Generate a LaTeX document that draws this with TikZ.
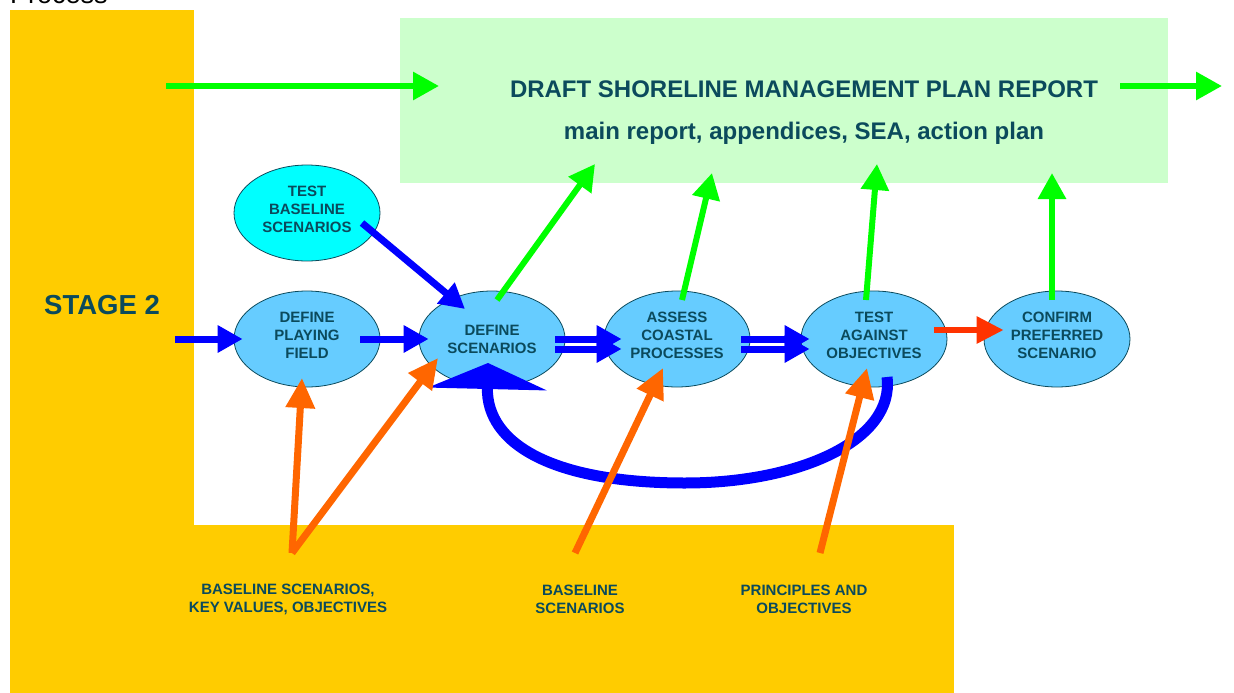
\documentclass[tikz,border=0pt]{standalone}
\usepackage{fontspec}
\setmainfont{Liberation Sans}
\usetikzlibrary{shapes.geometric,arrows.meta,calc}
\definecolor{yellowc}{HTML}{FFCC00}
\definecolor{greenbox}{HTML}{CCFFCC}
\definecolor{gr}{HTML}{00FF00}
\definecolor{bl}{HTML}{0000FF}
\definecolor{orc}{HTML}{FF6600}
\definecolor{rdc}{HTML}{FF3300}
\definecolor{lblue}{HTML}{66CCFF}
\definecolor{cyanc}{HTML}{00FFFF}
\definecolor{tc}{HTML}{0B4A5C}
\tikzset{
  proc/.style={ellipse, draw=tc, line width=0.8pt, fill=lblue, minimum width=146pt, minimum height=96pt,
    inner sep=0pt, align=center, text=tc, font=\bfseries\fontsize{15}{18}\selectfont},
  tri/.style={text depth=8pt},
  lbl/.style={align=center, text=tc, font=\bfseries\fontsize{15}{18}\selectfont, inner sep=0pt},
  garrow/.style={draw=gr, line width=6pt, -{Triangle[length=26pt,width=27pt]}},
  barrow/.style={draw=bl, line width=7pt, -{Triangle[length=25pt,width=26pt]}},
  oarrow/.style={draw=orc, line width=7pt, -{Triangle[length=30pt,width=28pt]}},
  rarrow/.style={draw=rdc, line width=6pt, -{Triangle[length=27pt,width=26pt]}},
  panel/.style={inner sep=0pt, outer sep=0pt, anchor=north west}
}
\begin{document}
\begin{tikzpicture}[x=1pt,y=-1pt]
\useasboundingbox (0,0) rectangle (1234,693);
\fill[white] (0,0) rectangle (1234,693);
% panels
\node[panel, fill=yellowc, minimum width=184pt, minimum height=515pt] (ybar) at (10,10) {};
\node[panel, fill=yellowc, minimum width=944pt, minimum height=168pt] (ybot) at (10,525) {};
\node[panel, fill=greenbox, minimum width=768pt, minimum height=165pt] (report) at (400,18) {};
% titles
\node[anchor=base west, inner sep=0pt, font=\fontsize{27}{30}\selectfont] (proctitle) at (10,4) {Process};
\node[anchor=base, inner sep=0pt, text=tc, font=\bfseries\fontsize{24}{28}\selectfont] (rtitle) at (804,97) {DRAFT SHORELINE MANAGEMENT PLAN REPORT};
\node[anchor=base, inner sep=0pt, text=tc, font=\bfseries\fontsize{24}{28}\selectfont] (rsub) at (804,139) {main report, appendices, SEA, action plan};
\node[anchor=base, inner sep=0pt, text=tc, font=\bfseries\fontsize{27.5}{30}\selectfont] (stage) at (102,314) {STAGE 2};
% process ellipses
\node[proc, tri, fill=cyanc] (tbs) at (307,213) {TEST\\BASELINE\\SCENARIOS};
\node[proc, tri] (dpf) at (307,339) {DEFINE\\PLAYING\\FIELD};
\node[proc] (ds) at (492,339) {DEFINE\\SCENARIOS};
\node[proc, tri] (acp) at (677,339) {ASSESS\\COASTAL\\PROCESSES};
\node[proc, tri] (tao) at (874,339) {TEST\\AGAINST\\OBJECTIVES};
\node[proc, tri] (cps) at (1057,339) {CONFIRM\\PREFERRED\\SCENARIO};
% bottom labels
\node[lbl] (l1) at (288,599) {BASELINE SCENARIOS,\\KEY VALUES, OBJECTIVES};
\node[lbl] (l2) at (580,599) {BASELINE\\SCENARIOS};
\node[lbl] (l3) at (804,599) {PRINCIPLES AND\\OBJECTIVES};
% free ends
\coordinate (gin) at (166,86);
\coordinate (gout) at (1222,86);
\coordinate (bin) at (175,339);
% green arrows
\draw[garrow] (gin) -- ($(report.south west)+(39,-97)$);
\draw[garrow] ($(report.south east)+(-48,-97)$) -- (gout);
\draw[garrow] ($(ds.center)+(5,-39)$) -- ($(report.south west)+(195,-19)$);
\draw[garrow] ($(acp.center)+(5,-39)$) -- ($(report.south west)+(312,-10)$);
\draw[garrow] ($(tao.center)+(-8,-39)$) -- ($(report.south west)+(477,-19)$);
\draw[garrow] ($(cps.center)+(-5,-39)$) -- ($(report.south west)+(652,-10)$);
% blue arrows
\draw[barrow] (bin) -- ($(dpf.west)+(9,0)$);
\draw[barrow] ($(dpf.east)+(-20,0)$) -- ($(ds.west)+(10,0)$);
\draw[barrow] ($(tbs.center)+(55,10)$) -- ($(ds.center)+(-27,-30)$);
\draw[barrow] ($(ds.east)+(-10,0)$) -- ($(acp.west)+(18,0)$);
\draw[barrow] ($(ds.east)+(-10,10)$) -- ($(acp.west)+(18,10)$);
\draw[barrow] ($(acp.east)+(-9,0)$) -- ($(tao.west)+(9,0)$);
\draw[barrow] ($(acp.east)+(-9,10)$) -- ($(tao.west)+(9,10)$);
% red arrow
\draw[rarrow] ($(tao.east)+(-13,-9)$) -- ($(cps.west)+(20,-9)$);
% big return arrow
\draw[draw=bl, line width=11pt, -{Triangle[length=26pt,width=118pt]}]
  ($(tao.center)+(13,38)$) .. controls (895,440) and (800,483) .. (685,483)
  .. controls (555,483) and (486,445) .. ($(ds.center)+(-4,24)$);
% orange arrows
\draw[oarrow] ($(ybot.north west)+(282,28)$) -- ($(dpf.center)+(-5,39)$);
\draw[oarrow] ($(ybot.north west)+(282,28)$) -- ($(ds.center)+(-54,19)$);
\draw[oarrow] ($(ybot.north west)+(565,28)$) -- ($(acp.center)+(-14,29)$);
\draw[oarrow] ($(ybot.north west)+(810,28)$) -- ($(tao.center)+(-7,29)$);
\end{tikzpicture}
\end{document}
